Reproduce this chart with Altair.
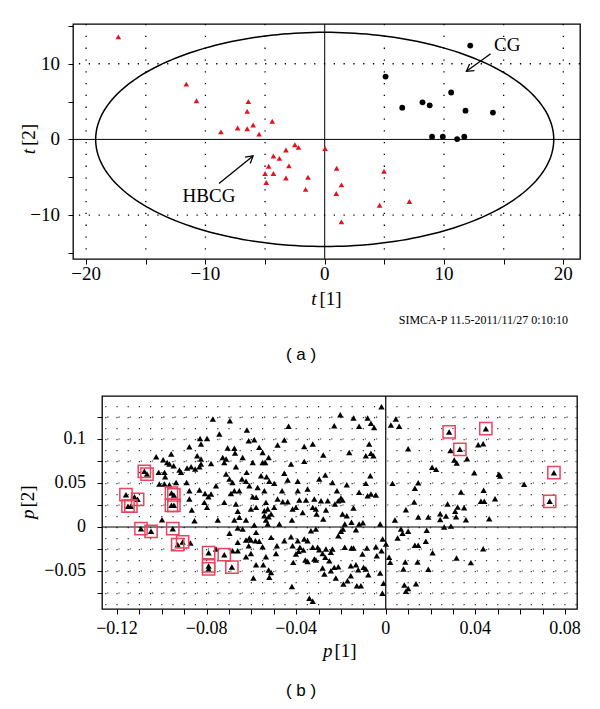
import altair as alt
import numpy as np
import pandas as pd

# ---------------- panel (a): score plot t[1] / t[2] ----------------
hbcg_t1 = [-17.3, -11.6, -10.75, -6.4, -6.5, -4.4, -8.7, -7.3, -6.5, -6.0, -5.5, 0.03,
           -2.5, -2.2, -3.25, -4.3, -3.8, -4.7, -3.0, -5.0, -4.3, -4.9, -3.25, -1.4,
           -1.6, 1.0, 1.4, 0.97, 1.4, 4.97, 4.6, 7.1]
hbcg_t2 = [13.55, 7.3, 5.1, 5.0, 3.7, 2.4, 1.0, 1.5, 1.4, 1.9, 0.7, -1.2,
           -0.7, -1.05, -1.4, -2.2, -2.5, -3.55, -3.5, -4.5, -4.5, -5.7, -5.1, -5.0,
           -6.6, -3.8, -6.0, -7.15, -10.9, -4.2, -8.7, -8.2]
cg_t1 = [12.2, 5.1, 10.6, 6.5, 8.2, 8.8, 11.8, 14.1, 9.0, 9.9, 11.1, 11.7]
cg_t2 = [12.4, 8.3, 6.2, 4.2, 4.9, 4.5, 3.8, 3.55, 0.35, 0.35, 0.05, 0.35]

ellipse_rx = 19.2
ellipse_ry = 14.15

a_xticks = [-20, -15, -10, -5, 0, 5, 10, 15, 20]
a_yticks = [-15, -10, -5, 0, 5, 10, 15]
a_xlabel_vals = [-20, -10, 0, 10, 20]
a_xlabel_text = ["\u221220", "\u221210", "0", "10", "20"]
a_ylabel_vals = [10, 0, -10]
a_ylabel_text = ["10", "0", "\u221210"]
a_grid_x = [-20, -15, -10, -5, 5, 10, 15, 20]
a_grid_y = [-10, 10]

arrow_label = ["HBCG", "CG"]
arrow_x = [-8.86, 13.91]
arrow_y = [-5.83, 11.32]
arrow_x2 = [-6.01, 11.88]
arrow_y2 = [-2.18, 9.0]
arrow_angle = [320.8, 144.1]
label_x = [-9.7, 15.3]
label_y = [-7.45, 12.5]

# ---------------- panel (b): loading plot p[1] / p[2] ----------------
loadings_left = [
    (-0.0772, 0.1227), (-0.0829, 0.1007), (-0.0798, 0.1007), (-0.0877, 0.0913), (-0.0825, 0.0943),
    (-0.0842, 0.0810), (-0.0825, 0.0772), (-0.0780, 0.0723), (-0.1025, 0.0799), (-0.0994, 0.0765),
    (-0.0976, 0.0734), (-0.0958, 0.0829), (-0.0966, 0.0716), (-0.0947, 0.0697), (-0.0921, 0.0647),
    (-0.0914, 0.0621), (-0.0887, 0.0670), (-0.0869, 0.0685), (-0.0851, 0.0659), (-0.0832, 0.0685),
    (-0.0825, 0.0716), (-0.1014, 0.0621), (-0.0988, 0.0621), (-0.0985, 0.0572), (-0.1011, 0.0488),
    (-0.0988, 0.0488), (-0.0966, 0.0481), (-0.0936, 0.0507), (-0.0889, 0.0507), (-0.0877, 0.0413),
    (-0.0832, 0.0420), (-0.0807, 0.0382), (-0.0792, 0.0344), (-0.0780, 0.0375), (-0.0758, 0.0469),
    (-0.1122, 0.0344), (-0.0877, 0.0318), (-0.0866, 0.0193), (-0.0810, 0.0280), (-0.0798, 0.0223),
    (-0.0999, 0.0083), (-0.0854, 0.0072), (-0.0750, 0.0079), (-0.0872, -0.0182), (-0.0758, -0.0250),
    (-0.0743, 0.1056),
]
loadings_mid = [
    (-0.0696, 0.1208), (-0.0620, 0.1102), (-0.0434, 0.1144), (-0.0612, 0.0981), (-0.0587, 0.0992),
    (-0.0483, 0.0931), (-0.0453, 0.0988), (-0.0364, 0.0916), (-0.0326, 0.0943), (-0.0706, 0.0897),
    (-0.0676, 0.0894), (-0.0673, 0.0841), (-0.0639, 0.0791), (-0.0565, 0.0905), (-0.0550, 0.0848),
    (-0.0523, 0.0791), (-0.0279, 0.0818), (-0.0728, 0.0791), (-0.0713, 0.0772), (-0.0721, 0.0734),
    (-0.0594, 0.0734), (-0.0550, 0.0734), (-0.0538, 0.0734), (-0.0423, 0.0715), (-0.0364, 0.0746),
    (-0.0669, 0.0685), (-0.0621, 0.0621), (-0.0453, 0.0610), (-0.0713, 0.0602), (-0.0698, 0.0545),
    (-0.0684, 0.0507), (-0.0642, 0.0545), (-0.0624, 0.0519), (-0.0557, 0.0583), (-0.0532, 0.0572),
    (-0.0520, 0.0519), (-0.0498, 0.0496), (-0.0438, 0.0534), (-0.0393, 0.0519), (-0.0349, 0.0431),
    (-0.0297, 0.0545), (-0.0270, 0.0591), (-0.0691, 0.0382), (-0.0676, 0.0413), (-0.0654, 0.0413),
    (-0.0609, 0.0469), (-0.0572, 0.0450), (-0.0542, 0.0413), (-0.0463, 0.0413), (-0.0393, 0.0413),
    (-0.0721, 0.0280), (-0.0669, 0.0261), (-0.0594, 0.0344), (-0.0579, 0.0337), (-0.0535, 0.0280),
    (-0.0483, 0.0318), (-0.0460, 0.0288), (-0.0438, 0.0288), (-0.0386, 0.0306), (-0.0356, 0.0306),
    (-0.0319, 0.0318), (-0.0289, 0.0299), (-0.0259, 0.0299), (-0.0602, 0.0204), (-0.0579, 0.0223),
    (-0.0542, 0.0185), (-0.0527, 0.0204), (-0.0498, 0.0223), (-0.0416, 0.0204), (-0.0401, 0.0223),
    (-0.0326, 0.0223), (-0.0312, 0.0204), (-0.0267, 0.0193), (-0.0661, 0.0178), (-0.0654, 0.0110),
    (-0.0542, 0.0128), (-0.0523, 0.0117), (-0.0512, 0.0147), (-0.0371, 0.0166), (-0.0309, 0.0147),
    (-0.0279, 0.0090), (-0.0676, 0.0079), (-0.0624, 0.0079), (-0.0535, 0.0079), (-0.0527, 0.0034),
    (-0.0475, 0.0034), (-0.0419, 0.0079), (-0.0661, -0.0012), (-0.0639, -0.0023), (-0.0587, 0.0022),
    (-0.0579, -0.0061), (-0.0698, -0.0072), (-0.0609, -0.0125), (-0.0624, -0.0148), (-0.0602, -0.0148),
    (-0.0582, -0.0156), (-0.0565, -0.0163), (-0.0512, -0.0118), (-0.0453, -0.0156), (-0.0423, -0.0110),
    (-0.0393, -0.0156), (-0.0349, -0.0156), (-0.0334, -0.0042), (-0.0312, -0.0023), (-0.0364, -0.0137),
    (-0.0661, -0.0174), (-0.0612, -0.0213), (-0.0550, -0.0224), (-0.0486, -0.0213), (-0.0416, -0.0213),
    (-0.0383, -0.0231), (-0.0368, -0.0262), (-0.0326, -0.0231), (-0.0304, -0.0231), (-0.0297, -0.0258),
    (-0.0267, -0.0250), (-0.0245, -0.0288), (-0.0684, -0.0269), (-0.0661, -0.0269), (-0.0602, -0.0300),
    (-0.0624, -0.0338), (-0.0535, -0.0338), (-0.0490, -0.0300), (-0.0401, -0.0307), (-0.0389, -0.0277),
    (-0.0359, -0.0375), (-0.0349, -0.0391), (-0.0319, -0.0364), (-0.0312, -0.0375), (-0.0282, -0.0300),
    (-0.0270, -0.0345), (-0.0252, -0.0383), (-0.0413, -0.0402), (-0.0579, -0.0429), (-0.0547, -0.0429),
    (-0.0523, -0.0489), (-0.0512, -0.0516), (-0.0282, -0.0466), (-0.0274, -0.0535), (-0.0245, -0.0497),
    (-0.0591, -0.0580), (-0.0520, -0.0572), (-0.0419, -0.0675), (-0.0341, -0.0811), (-0.0326, -0.0845),
]
loadings_center = [
    (-0.0019, 0.1367), (-0.0203, 0.1276), (-0.0144, 0.1238), (-0.0081, 0.1238), (-0.0066, 0.1178),
    (-0.0052, 0.1132), (-0.0119, 0.1144), (-0.0230, 0.1151), (0.0045, 0.1227), (0.0023, 0.1159),
    (0.0060, 0.1144), (-0.0074, 0.0943), (-0.0163, 0.0848), (-0.0089, 0.0810), (-0.0066, 0.0837),
    (-0.0055, 0.0810), (-0.0069, 0.0583), (-0.0238, 0.0507), (-0.0174, 0.0481), (-0.0089, 0.0496),
    (0.0030, 0.0496), (-0.0218, 0.0413), (-0.0119, 0.0394), (-0.0081, 0.0356), (-0.0066, 0.0375),
    (-0.0044, 0.0363), (-0.0200, 0.0329), (-0.0212, 0.0299), (-0.0193, 0.0306), (-0.0227, 0.0261),
    (-0.0144, 0.0216), (-0.0193, 0.0147), (-0.0174, 0.0128), (-0.0183, 0.0034), (-0.0153, 0.0053),
    (-0.0119, 0.0034), (-0.0102, 0.0049), (-0.0025, 0.0034), (0.0041, 0.0079), (-0.0191, -0.0023),
    (-0.0200, -0.0049), (-0.0212, -0.0099), (-0.0133, -0.0030), (-0.0014, -0.0137), (0.0001, -0.0193),
    (-0.0019, -0.0269), (-0.0040, -0.0326), (0.0053, -0.0125), (-0.0238, -0.0250), (-0.0230, -0.0459),
    (-0.0183, -0.0231), (-0.0153, -0.0239), (-0.0144, -0.0239), (-0.0104, -0.0307), (-0.0084, -0.0239),
    (-0.0044, -0.0224), (-0.0212, -0.0451), (-0.0156, -0.0440), (-0.0133, -0.0429), (-0.0123, -0.0485),
    (-0.0099, -0.0459), (-0.0089, -0.0478), (-0.0078, -0.0542), (-0.0025, -0.0523), (-0.0156, -0.0553),
    (-0.0171, -0.0610), (-0.0189, -0.0648), (-0.0223, -0.0580), (-0.0129, -0.0667), (-0.0111, -0.0667),
    (-0.0010, -0.0640), (-0.0015, -0.0754), (0.0015, -0.0345), (0.0020, -0.0402), (0.0068, -0.0023),
    (0.0075, -0.0072), (0.0100, -0.0049), (0.0079, -0.0478),
]
loadings_right = [
    (0.0100, 0.0890), (0.0207, 0.0680), (0.0225, 0.0655), (0.0130, 0.0440), (0.0145, 0.0503),
    (0.0127, 0.0284), (0.0090, 0.0197), (0.0145, 0.0114), (0.0190, 0.0114), (0.0243, 0.0150),
    (0.0243, 0.0085), (0.0269, 0.0125), (0.0310, 0.0178), (0.0321, 0.0227), (0.0350, 0.0220),
    (0.0358, 0.0083), (0.0261, 0.0000), (0.0291, 0.0010), (0.0336, 0.0398), (0.0395, 0.0617),
    (0.0437, 0.0417), (0.0425, 0.0292), (0.0440, 0.0292), (0.0413, 0.0935), (0.0435, 0.0947),
    (0.0289, 0.0869), (0.0306, 0.0761), (0.0317, 0.0727), (0.0363, 0.0776), (0.0183, -0.0038),
    (0.0179, -0.0163), (0.0130, -0.0208), (0.0145, -0.0208), (0.0209, -0.0292), (0.0087, -0.0398),
    (0.0142, -0.0398), (0.0190, -0.0480), (0.0135, -0.0644), (0.0100, -0.0700), (0.0090, -0.0730),
    (0.0083, -0.0660), (0.0511, 0.0580), (0.0505, 0.0600), (0.0618, 0.0485), (0.0488, 0.0320),
    (0.0462, 0.0094), (0.0435, -0.0246), (0.0380, -0.0405), (0.0316, -0.0352), (0.0276, 0.0261),
    (0.0314, 0.0117),
]
loadings_marked = [
    (-0.1160, 0.0367), (-0.1151, 0.0236), (-0.1138, 0.0236), (-0.1108, 0.0315), (-0.1078, 0.0633),
    (-0.1066, 0.0602), (-0.0957, 0.0386), (-0.0946, 0.0364), (-0.0957, 0.0247), (-0.0946, 0.0247),
    (-0.1093, -0.0019), (-0.1048, -0.0049), (-0.0951, -0.0019), (-0.0929, -0.0201), (-0.0907, -0.0170),
    (-0.0791, -0.0292), (-0.0791, -0.0443), (-0.0791, -0.0477), (-0.0721, -0.0315), (-0.0687, -0.0455),
    (0.0283, 0.1080), (0.0447, 0.1117), (0.0331, 0.0883), (0.0751, 0.0617), (0.0732, 0.0292),
]

b_xticks = [round(k / 100, 2) + 0.0 for k in range(-12, 9)]
b_yticks = [k / 1000 + 0.0 for k in range(-75, 126, 25)]
b_xlabel_vals = [-0.12, -0.08, -0.04, 0.0, 0.04, 0.08]
b_xlabel_text = ["\u22120.12", "\u22120.08", "\u22120.04", "0", "0.04", "0.08"]
b_ylabel_vals = [0.1, 0.05, 0.0, -0.05]
b_ylabel_text = ["0.1", "0.05", "0", "\u22120.05"]
b_grid_cols = [round(k * 0.005, 3) for k in range(-25, 18) if k != 0]
b_grid_rows = [k * 0.025 for k in range(-3, 6) if k != 0]

# ---------------- styling ----------------
SERIF = "Liberation Serif"
SANS = "Liberation Sans"
RED = "#e3121e"
BOX = "#e8455e"

one = pd.DataFrame({"k": [0]})


def txt(text, x, y, size, font=SERIF, style="normal", align="center", angle=0, baseline="middle"):
    return alt.Chart(one).mark_text(
        text=text, font=font, fontSize=size, fontStyle=style, align=align,
        baseline=baseline, angle=angle, color="black"
    ).encode(x=alt.value(x), y=alt.value(y))


def tick_axis(vals):
    return alt.Axis(values=vals, title=None, grid=False, domain=False, labels=False,
                    ticks=True, tickSize=5, tickColor="black", tickWidth=1)


# ----- panel (a) -----
xa_scale = alt.Scale(domain=[-21.1, 21.4], nice=False, zero=False)
ya_scale = alt.Scale(domain=[-15.8, 15.25], nice=False, zero=False)
axis_xa = tick_axis(a_xticks)
axis_ya = tick_axis(a_yticks)
XA = lambda f="x": alt.X(f"{f}:Q", scale=xa_scale, axis=axis_xa)
YA = lambda f="y": alt.Y(f"{f}:Q", scale=ya_scale, axis=axis_ya)

theta = np.linspace(0, 2 * np.pi, 241)
ell = pd.DataFrame({"x": ellipse_rx * np.cos(theta), "y": ellipse_ry * np.sin(theta), "o": np.arange(241)})

grid_ax = alt.Chart(pd.DataFrame({"x": a_grid_x})).mark_rule(
    color="black", strokeWidth=1.3, strokeDash=[1.3, 10.5]).encode(x=XA())
grid_ay = alt.Chart(pd.DataFrame({"y": a_grid_y})).mark_rule(
    color="black", strokeWidth=1.3, strokeDash=[1.3, 8.5]).encode(y=YA())
zero_ax = alt.Chart(pd.DataFrame({"x": [0]})).mark_rule(color="black", strokeWidth=1).encode(x=XA())
zero_ay = alt.Chart(pd.DataFrame({"y": [0]})).mark_rule(color="black", strokeWidth=1).encode(y=YA())
ellipse = alt.Chart(ell).mark_line(color="black", strokeWidth=1.5).encode(x=XA(), y=YA(), order="o:Q")
hbcg = alt.Chart(pd.DataFrame({"x": hbcg_t1, "y": hbcg_t2})).mark_point(
    shape="triangle-up", filled=True, color=RED, size=32, opacity=1).encode(x=XA(), y=YA())
cg = alt.Chart(pd.DataFrame({"x": cg_t1, "y": cg_t2})).mark_point(
    shape="circle", filled=True, color="black", size=34, opacity=1).encode(x=XA(), y=YA())
arr_df = pd.DataFrame({"lab": arrow_label, "x": arrow_x, "y": arrow_y, "x2": arrow_x2,
                       "y2": arrow_y2, "ang": arrow_angle, "lx": label_x, "ly": label_y})
arrow_line = alt.Chart(arr_df).mark_rule(color="black", strokeWidth=1.3).encode(
    x=XA(), y=YA(), x2="x2:Q", y2="y2:Q")
arrow_head = alt.Chart(arr_df).mark_point(
    shape="M -1 -0.6 L 0 0 L -1 0.6", filled=False, size=190, stroke="black",
    strokeWidth=1.3, opacity=1).encode(x=XA("x2"), y=YA("y2"), angle=alt.Angle("ang:Q", scale=None))
arrow_text = alt.Chart(arr_df).mark_text(font=SERIF, fontSize=19, color="black").encode(
    x=XA("lx"), y=YA("ly"), text="lab:N")
a_xlab = alt.Chart(pd.DataFrame({"v": a_xlabel_vals, "t": a_xlabel_text})).mark_text(
    font=SERIF, fontSize=19, color="black", baseline="middle").encode(
    x=XA("v"), y=alt.value(250), text="t:N")
a_ylab = alt.Chart(pd.DataFrame({"v": a_ylabel_vals, "t": a_ylabel_text})).mark_text(
    font=SERIF, fontSize=19, color="black", baseline="middle", align="right").encode(
    y=YA("v"), x=alt.value(-13), text="t:N")

panel_a = alt.layer(
    grid_ax, grid_ay, zero_ax, zero_ay, ellipse, hbcg, cg, arrow_line, arrow_head, arrow_text,
    a_xlab, a_ylab,
    txt("t", 243.5, 275, 19, style="italic", align="right"),
    txt("[1]", 246.5, 275, 19, align="left"),
    txt("t", -44, 125, 19, style="italic", align="right", angle=270),
    txt("[2]", -44, 122, 19, align="left", angle=270),
    txt("SIMCA-P 11.5-2011/11/27 0:10:10", 495, 296, 12, align="right"),
    txt("( a )", 228, 331, 17, font=SANS),
).properties(width=507, height=235)

# ----- panel (b) -----
xb_scale = alt.Scale(domain=[-0.1267, 0.0854], nice=False, zero=False)
yb_scale = alt.Scale(domain=[-0.0932, 0.1489], nice=False, zero=False)
axis_xb = tick_axis(b_xticks)
axis_yb = tick_axis(b_yticks)
XB = lambda f="x": alt.X(f"{f}:Q", scale=xb_scale, axis=axis_xb)
YB = lambda f="y": alt.Y(f"{f}:Q", scale=yb_scale, axis=axis_yb)

all_load = loadings_left + loadings_mid + loadings_center + loadings_right + loadings_marked
load_df = pd.DataFrame(all_load, columns=["x", "y"])
mark_df = pd.DataFrame(loadings_marked, columns=["x", "y"])

grid_bc = alt.Chart(pd.DataFrame({"x": b_grid_cols})).mark_rule(
    color="#333333", strokeWidth=1.2, strokeDash=[1.2, 9.8], strokeDashOffset=1).encode(x=XB())
grid_br = alt.Chart(pd.DataFrame({"y": b_grid_rows})).mark_rule(
    color="#333333", strokeWidth=1.2, strokeDash=[1.2, 10.0], strokeDashOffset=1.8).encode(y=YB())
zero_bx = alt.Chart(pd.DataFrame({"x": [0]})).mark_rule(color="black", strokeWidth=1.2).encode(x=XB())
zero_by = alt.Chart(pd.DataFrame({"y": [0]})).mark_rule(color="black", strokeWidth=1.2).encode(y=YB())
tri = alt.Chart(load_df).mark_point(
    shape="triangle-up", filled=True, color="black", size=40, opacity=1).encode(x=XB(), y=YB())
boxes = alt.Chart(mark_df).mark_point(
    shape="square", filled=False, color=BOX, size=150, strokeWidth=1.5, opacity=1).encode(x=XB(), y=YB())
b_xlab = alt.Chart(pd.DataFrame({"v": b_xlabel_vals, "t": b_xlabel_text})).mark_text(
    font=SERIF, fontSize=18, color="black", baseline="middle").encode(
    x=XB("v"), y=alt.value(233), text="t:N")
b_ylab = alt.Chart(pd.DataFrame({"v": b_ylabel_vals, "t": b_ylabel_text})).mark_text(
    font=SERIF, fontSize=18, color="black", baseline="middle", align="right").encode(
    y=YB("v"), x=alt.value(-16), text="t:N")

panel_b = alt.layer(
    grid_bc, grid_br, zero_bx, zero_by, tri, boxes, b_xlab, b_ylab,
    txt("p", 230.5, 255, 19, style="italic", align="right"),
    txt("[1]", 232.5, 255, 19, align="left"),
    txt("p", -74, 113.5, 19, style="italic", align="right", angle=270),
    txt("[2]", -74, 111.5, 19, align="left", angle=270),
    txt("( b )", 199, 295, 17, font=SANS),
).properties(width=475, height=213)

# invisible spacer that shifts panel (b) to the right of panel (a)'s frame
spacer = alt.Chart(one).mark_point(opacity=0).encode(
    x=alt.value(0), y=alt.value(0)
).properties(width=29, height=1, view=alt.ViewBackground(stroke="transparent"))

row_b = alt.hconcat(spacer, panel_b, spacing=0, bounds="flush")

chart = alt.vconcat(panel_a, row_b, spacing=137, bounds="flush").properties(
    padding={"left": 10, "top": 14, "right": 0, "bottom": 0},
    background="white",
).configure_view(stroke="black", strokeWidth=1.3)

chart.save("out.html", embed_options={"renderer": "svg", "actions": False})
